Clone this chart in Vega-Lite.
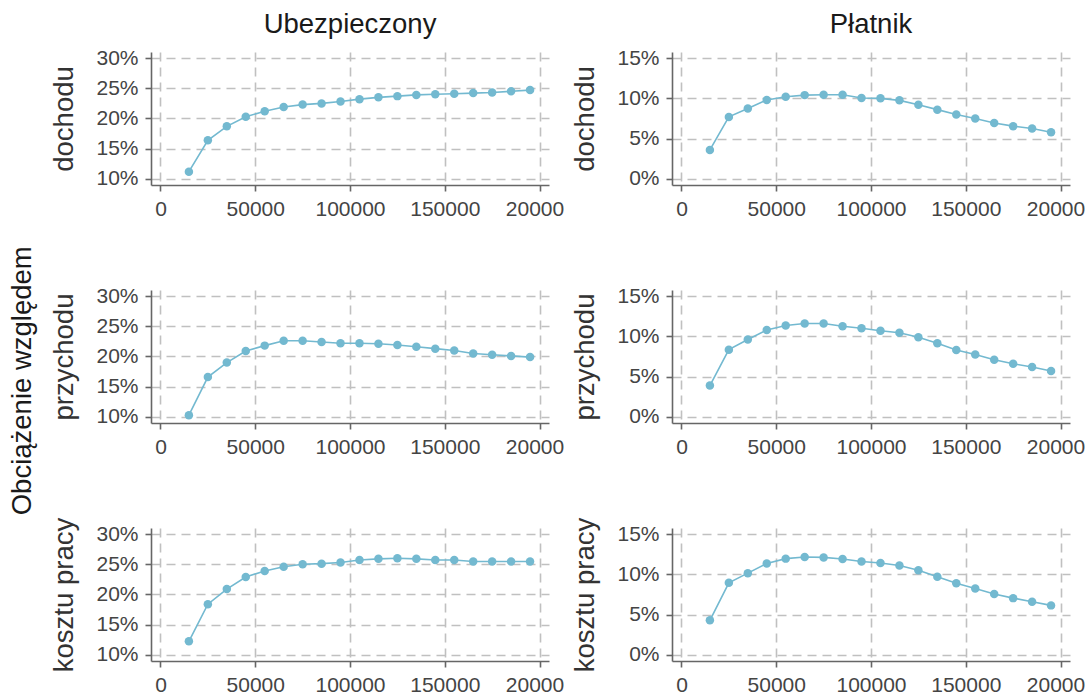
{
  "$schema": "https://vega.github.io/schema/vega-lite/v6.json",
  "background": "white",
  "padding": {"left": 9, "top": 10, "right": 5, "bottom": 5},
  "title": {"text": "Obciążenie względem", "orient": "left", "anchor": "middle", "fontSize": 27.5, "fontWeight": "normal", "color": "#1a1a1a", "font": "Liberation Sans", "offset": 14, "dx": -28},
  "data": {"values": [
    {"s":"Ubezpieczony","w":"dochodu","x":15000,"v":0.112},{"s":"Ubezpieczony","w":"dochodu","x":25000,"v":0.164},{"s":"Ubezpieczony","w":"dochodu","x":35000,"v":0.187},{"s":"Ubezpieczony","w":"dochodu","x":45000,"v":0.203},{"s":"Ubezpieczony","w":"dochodu","x":55000,"v":0.212},{"s":"Ubezpieczony","w":"dochodu","x":65000,"v":0.219},{"s":"Ubezpieczony","w":"dochodu","x":75000,"v":0.223},{"s":"Ubezpieczony","w":"dochodu","x":85000,"v":0.225},{"s":"Ubezpieczony","w":"dochodu","x":95000,"v":0.228},{"s":"Ubezpieczony","w":"dochodu","x":105000,"v":0.232},{"s":"Ubezpieczony","w":"dochodu","x":115000,"v":0.235},{"s":"Ubezpieczony","w":"dochodu","x":125000,"v":0.237},{"s":"Ubezpieczony","w":"dochodu","x":135000,"v":0.239},{"s":"Ubezpieczony","w":"dochodu","x":145000,"v":0.240},{"s":"Ubezpieczony","w":"dochodu","x":155000,"v":0.241},{"s":"Ubezpieczony","w":"dochodu","x":165000,"v":0.242},{"s":"Ubezpieczony","w":"dochodu","x":175000,"v":0.243},{"s":"Ubezpieczony","w":"dochodu","x":185000,"v":0.245},{"s":"Ubezpieczony","w":"dochodu","x":195000,"v":0.247},
    {"s":"Płatnik","w":"dochodu","x":15000,"v":0.036},{"s":"Płatnik","w":"dochodu","x":25000,"v":0.077},{"s":"Płatnik","w":"dochodu","x":35000,"v":0.0875},{"s":"Płatnik","w":"dochodu","x":45000,"v":0.098},{"s":"Płatnik","w":"dochodu","x":55000,"v":0.102},{"s":"Płatnik","w":"dochodu","x":65000,"v":0.104},{"s":"Płatnik","w":"dochodu","x":75000,"v":0.1045},{"s":"Płatnik","w":"dochodu","x":85000,"v":0.1045},{"s":"Płatnik","w":"dochodu","x":95000,"v":0.1005},{"s":"Płatnik","w":"dochodu","x":105000,"v":0.100},{"s":"Płatnik","w":"dochodu","x":115000,"v":0.0975},{"s":"Płatnik","w":"dochodu","x":125000,"v":0.092},{"s":"Płatnik","w":"dochodu","x":135000,"v":0.086},{"s":"Płatnik","w":"dochodu","x":145000,"v":0.080},{"s":"Płatnik","w":"dochodu","x":155000,"v":0.075},{"s":"Płatnik","w":"dochodu","x":165000,"v":0.0695},{"s":"Płatnik","w":"dochodu","x":175000,"v":0.0655},{"s":"Płatnik","w":"dochodu","x":185000,"v":0.0625},{"s":"Płatnik","w":"dochodu","x":195000,"v":0.058},
    {"s":"Ubezpieczony","w":"przychodu","x":15000,"v":0.103},{"s":"Ubezpieczony","w":"przychodu","x":25000,"v":0.166},{"s":"Ubezpieczony","w":"przychodu","x":35000,"v":0.190},{"s":"Ubezpieczony","w":"przychodu","x":45000,"v":0.209},{"s":"Ubezpieczony","w":"przychodu","x":55000,"v":0.218},{"s":"Ubezpieczony","w":"przychodu","x":65000,"v":0.226},{"s":"Ubezpieczony","w":"przychodu","x":75000,"v":0.226},{"s":"Ubezpieczony","w":"przychodu","x":85000,"v":0.224},{"s":"Ubezpieczony","w":"przychodu","x":95000,"v":0.222},{"s":"Ubezpieczony","w":"przychodu","x":105000,"v":0.222},{"s":"Ubezpieczony","w":"przychodu","x":115000,"v":0.221},{"s":"Ubezpieczony","w":"przychodu","x":125000,"v":0.219},{"s":"Ubezpieczony","w":"przychodu","x":135000,"v":0.216},{"s":"Ubezpieczony","w":"przychodu","x":145000,"v":0.213},{"s":"Ubezpieczony","w":"przychodu","x":155000,"v":0.210},{"s":"Ubezpieczony","w":"przychodu","x":165000,"v":0.205},{"s":"Ubezpieczony","w":"przychodu","x":175000,"v":0.203},{"s":"Ubezpieczony","w":"przychodu","x":185000,"v":0.201},{"s":"Ubezpieczony","w":"przychodu","x":195000,"v":0.199},
    {"s":"Płatnik","w":"przychodu","x":15000,"v":0.039},{"s":"Płatnik","w":"przychodu","x":25000,"v":0.0835},{"s":"Płatnik","w":"przychodu","x":35000,"v":0.096},{"s":"Płatnik","w":"przychodu","x":45000,"v":0.108},{"s":"Płatnik","w":"przychodu","x":55000,"v":0.1135},{"s":"Płatnik","w":"przychodu","x":65000,"v":0.116},{"s":"Płatnik","w":"przychodu","x":75000,"v":0.116},{"s":"Płatnik","w":"przychodu","x":85000,"v":0.1125},{"s":"Płatnik","w":"przychodu","x":95000,"v":0.110},{"s":"Płatnik","w":"przychodu","x":105000,"v":0.107},{"s":"Płatnik","w":"przychodu","x":115000,"v":0.1045},{"s":"Płatnik","w":"przychodu","x":125000,"v":0.099},{"s":"Płatnik","w":"przychodu","x":135000,"v":0.0915},{"s":"Płatnik","w":"przychodu","x":145000,"v":0.083},{"s":"Płatnik","w":"przychodu","x":155000,"v":0.0775},{"s":"Płatnik","w":"przychodu","x":165000,"v":0.071},{"s":"Płatnik","w":"przychodu","x":175000,"v":0.066},{"s":"Płatnik","w":"przychodu","x":185000,"v":0.062},{"s":"Płatnik","w":"przychodu","x":195000,"v":0.057},
    {"s":"Ubezpieczony","w":"kosztu pracy","x":15000,"v":0.1225},{"s":"Ubezpieczony","w":"kosztu pracy","x":25000,"v":0.184},{"s":"Ubezpieczony","w":"kosztu pracy","x":35000,"v":0.209},{"s":"Ubezpieczony","w":"kosztu pracy","x":45000,"v":0.229},{"s":"Ubezpieczony","w":"kosztu pracy","x":55000,"v":0.239},{"s":"Ubezpieczony","w":"kosztu pracy","x":65000,"v":0.246},{"s":"Ubezpieczony","w":"kosztu pracy","x":75000,"v":0.250},{"s":"Ubezpieczony","w":"kosztu pracy","x":85000,"v":0.251},{"s":"Ubezpieczony","w":"kosztu pracy","x":95000,"v":0.253},{"s":"Ubezpieczony","w":"kosztu pracy","x":105000,"v":0.257},{"s":"Ubezpieczony","w":"kosztu pracy","x":115000,"v":0.259},{"s":"Ubezpieczony","w":"kosztu pracy","x":125000,"v":0.260},{"s":"Ubezpieczony","w":"kosztu pracy","x":135000,"v":0.259},{"s":"Ubezpieczony","w":"kosztu pracy","x":145000,"v":0.257},{"s":"Ubezpieczony","w":"kosztu pracy","x":155000,"v":0.257},{"s":"Ubezpieczony","w":"kosztu pracy","x":165000,"v":0.2545},{"s":"Ubezpieczony","w":"kosztu pracy","x":175000,"v":0.2545},{"s":"Ubezpieczony","w":"kosztu pracy","x":185000,"v":0.2545},{"s":"Ubezpieczony","w":"kosztu pracy","x":195000,"v":0.2545},
    {"s":"Płatnik","w":"kosztu pracy","x":15000,"v":0.043},{"s":"Płatnik","w":"kosztu pracy","x":25000,"v":0.0895},{"s":"Płatnik","w":"kosztu pracy","x":35000,"v":0.1015},{"s":"Płatnik","w":"kosztu pracy","x":45000,"v":0.1135},{"s":"Płatnik","w":"kosztu pracy","x":55000,"v":0.1195},{"s":"Płatnik","w":"kosztu pracy","x":65000,"v":0.1215},{"s":"Płatnik","w":"kosztu pracy","x":75000,"v":0.121},{"s":"Płatnik","w":"kosztu pracy","x":85000,"v":0.119},{"s":"Płatnik","w":"kosztu pracy","x":95000,"v":0.116},{"s":"Płatnik","w":"kosztu pracy","x":105000,"v":0.114},{"s":"Płatnik","w":"kosztu pracy","x":115000,"v":0.111},{"s":"Płatnik","w":"kosztu pracy","x":125000,"v":0.105},{"s":"Płatnik","w":"kosztu pracy","x":135000,"v":0.097},{"s":"Płatnik","w":"kosztu pracy","x":145000,"v":0.089},{"s":"Płatnik","w":"kosztu pracy","x":155000,"v":0.0825},{"s":"Płatnik","w":"kosztu pracy","x":165000,"v":0.0755},{"s":"Płatnik","w":"kosztu pracy","x":175000,"v":0.0705},{"s":"Płatnik","w":"kosztu pracy","x":185000,"v":0.066},{"s":"Płatnik","w":"kosztu pracy","x":195000,"v":0.0615}
  ]},
  "columns": 2,
  "bounds": "flush",
  "spacing": {"row": 105, "column": 123},
  "concat": [
    {
      "width": 398, "height": 133,
      "title": {"text": "Ubezpieczony", "anchor": "middle", "frame": "group", "baseline": "alphabetic", "offset": -13},
      "transform": [{"filter": "datum.s === 'Ubezpieczony' && datum.w === 'dochodu'"}],
      "mark": {"type": "line", "color": "#73b9d0", "strokeWidth": 1.6, "point": {"filled": true, "size": 72, "color": "#73b9d0", "opacity": 1}},
      "encoding": {
        "x": {"field": "x", "type": "quantitative", "scale": {"domain": [-5000, 205000], "nice": false, "zero": false}, "axis": {"values": [0, 50000, 100000, 150000, 200000], "format": "d", "labelExpr": "datum.value == 200000 ? '20000' : datum.label", "labelOffset": {"condition": {"test": "datum.value == 200000", "value": -5}, "value": 0}}},
        "y": {"field": "v", "type": "quantitative", "title": "dochodu", "scale": {"domain": [0.09, 0.31], "nice": false, "zero": false}, "axis": {"values": [0.1, 0.15, 0.2, 0.25, 0.3], "format": ".0%"}}
      }
    },
    {
      "width": 398, "height": 133,
      "title": {"text": "Płatnik", "anchor": "middle", "frame": "group", "baseline": "alphabetic", "offset": -13},
      "transform": [{"filter": "datum.s === 'Płatnik' && datum.w === 'dochodu'"}],
      "mark": {"type": "line", "color": "#73b9d0", "strokeWidth": 1.6, "point": {"filled": true, "size": 72, "color": "#73b9d0", "opacity": 1}},
      "encoding": {
        "x": {"field": "x", "type": "quantitative", "scale": {"domain": [-5000, 205000], "nice": false, "zero": false}, "axis": {"values": [0, 50000, 100000, 150000, 200000], "format": "d", "labelExpr": "datum.value == 200000 ? '20000' : datum.label", "labelOffset": {"condition": {"test": "datum.value == 200000", "value": -5}, "value": 0}}},
        "y": {"field": "v", "type": "quantitative", "title": "dochodu", "scale": {"domain": [-0.0075, 0.1575], "nice": false, "zero": false}, "axis": {"values": [0, 0.05, 0.1, 0.15], "format": ".0%"}}
      }
    },
    {
      "width": 398, "height": 133,
      "transform": [{"filter": "datum.s === 'Ubezpieczony' && datum.w === 'przychodu'"}],
      "mark": {"type": "line", "color": "#73b9d0", "strokeWidth": 1.6, "point": {"filled": true, "size": 72, "color": "#73b9d0", "opacity": 1}},
      "encoding": {
        "x": {"field": "x", "type": "quantitative", "scale": {"domain": [-5000, 205000], "nice": false, "zero": false}, "axis": {"values": [0, 50000, 100000, 150000, 200000], "format": "d", "labelExpr": "datum.value == 200000 ? '20000' : datum.label", "labelOffset": {"condition": {"test": "datum.value == 200000", "value": -5}, "value": 0}}},
        "y": {"field": "v", "type": "quantitative", "title": "przychodu", "scale": {"domain": [0.09, 0.31], "nice": false, "zero": false}, "axis": {"values": [0.1, 0.15, 0.2, 0.25, 0.3], "format": ".0%"}}
      }
    },
    {
      "width": 398, "height": 133,
      "transform": [{"filter": "datum.s === 'Płatnik' && datum.w === 'przychodu'"}],
      "mark": {"type": "line", "color": "#73b9d0", "strokeWidth": 1.6, "point": {"filled": true, "size": 72, "color": "#73b9d0", "opacity": 1}},
      "encoding": {
        "x": {"field": "x", "type": "quantitative", "scale": {"domain": [-5000, 205000], "nice": false, "zero": false}, "axis": {"values": [0, 50000, 100000, 150000, 200000], "format": "d", "labelExpr": "datum.value == 200000 ? '20000' : datum.label", "labelOffset": {"condition": {"test": "datum.value == 200000", "value": -5}, "value": 0}}},
        "y": {"field": "v", "type": "quantitative", "title": "przychodu", "scale": {"domain": [-0.0075, 0.1575], "nice": false, "zero": false}, "axis": {"values": [0, 0.05, 0.1, 0.15], "format": ".0%"}}
      }
    },
    {
      "width": 398, "height": 133,
      "transform": [{"filter": "datum.s === 'Ubezpieczony' && datum.w === 'kosztu pracy'"}],
      "mark": {"type": "line", "color": "#73b9d0", "strokeWidth": 1.6, "point": {"filled": true, "size": 72, "color": "#73b9d0", "opacity": 1}},
      "encoding": {
        "x": {"field": "x", "type": "quantitative", "scale": {"domain": [-5000, 205000], "nice": false, "zero": false}, "axis": {"values": [0, 50000, 100000, 150000, 200000], "format": "d", "labelExpr": "datum.value == 200000 ? '20000' : datum.label", "labelOffset": {"condition": {"test": "datum.value == 200000", "value": -5}, "value": 0}}},
        "y": {"field": "v", "type": "quantitative", "title": "kosztu pracy", "scale": {"domain": [0.09, 0.31], "nice": false, "zero": false}, "axis": {"values": [0.1, 0.15, 0.2, 0.25, 0.3], "format": ".0%"}}
      }
    },
    {
      "width": 398, "height": 133,
      "transform": [{"filter": "datum.s === 'Płatnik' && datum.w === 'kosztu pracy'"}],
      "mark": {"type": "line", "color": "#73b9d0", "strokeWidth": 1.6, "point": {"filled": true, "size": 72, "color": "#73b9d0", "opacity": 1}},
      "encoding": {
        "x": {"field": "x", "type": "quantitative", "scale": {"domain": [-5000, 205000], "nice": false, "zero": false}, "axis": {"values": [0, 50000, 100000, 150000, 200000], "format": "d", "labelExpr": "datum.value == 200000 ? '20000' : datum.label", "labelOffset": {"condition": {"test": "datum.value == 200000", "value": -5}, "value": 0}}},
        "y": {"field": "v", "type": "quantitative", "title": "kosztu pracy", "scale": {"domain": [-0.0075, 0.1575], "nice": false, "zero": false}, "axis": {"values": [0, 0.05, 0.1, 0.15], "format": ".0%"}}
      }
    }
  ],
  "config": {
    "font": "Liberation Sans",
    "view": {"stroke": null},
    "axis": {
      "domainColor": "#666666", "domainWidth": 1.6,
      "tickColor": "#666666", "tickWidth": 1.6, "tickSize": 6,
      "labelFont": "Liberation Sans", "labelFontSize": 21, "labelColor": "#444444", "labelPadding": 7,
      "titleFont": "Liberation Sans", "titleFontSize": 27.5, "titleFontWeight": "normal", "titleColor": "#333333",
      "gridColor": "#c0c0c0", "gridDash": [9, 6], "gridWidth": 1.6
    },
    "axisX": {"title": null, "labelFlush": false, "labelOverlap": false, "labelBound": false},
    "axisY": {"titlePadding": 17, "labelOverlap": false},
    "title": {"fontSize": 27.5, "fontWeight": "normal", "color": "#1a1a1a", "font": "Liberation Sans"}
  }
}
